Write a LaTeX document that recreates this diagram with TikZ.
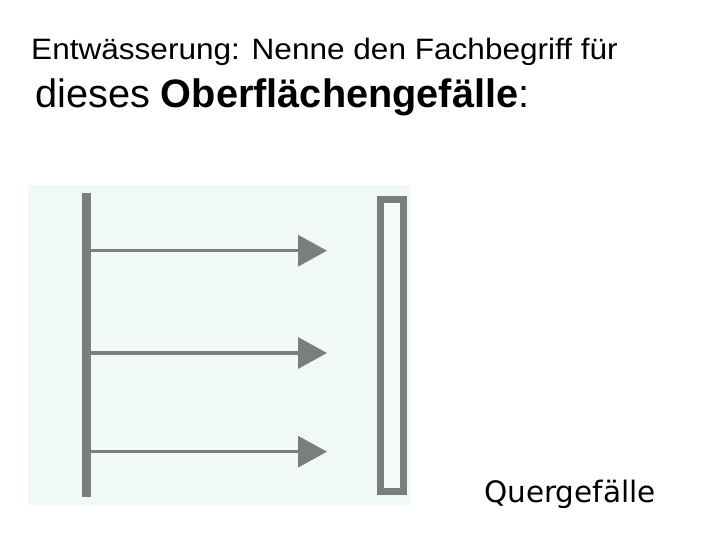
\documentclass[tikz,border=0pt]{standalone}
\usepackage{fontspec}
\setmainfont{Liberation Sans}
\newfontfamily\qfont{DejaVu Sans}
\usetikzlibrary{arrows.meta}
\definecolor{bgmint}{RGB}{241,249,245}
\definecolor{bargray}{RGB}{122,126,124}
\definecolor{innerw}{RGB}{246,251,249}
\tikzset{
  txt/.style={anchor=base west, inner sep=0pt, text=black},
  flowarrow/.style={draw=bargray, line width=3.3pt, -{Triangle[length=29pt,width=31pt]}},
}
\begin{document}
\begin{tikzpicture}[x=1pt,y=-1pt]
\useasboundingbox (0,0) rectangle (720,540);
% background
\fill[bgmint] (28,185) rectangle (410,505);
% title
\node[txt, xscale=1.07] (t1) at (31,59.5) {\fontsize{29.5}{34}\selectfont Entwässerung: Nenne den Fachbegriff für};
\node[txt] (t2) at (35,108) {\fontsize{39.7}{46}\selectfont dieses \textbf{Oberflächengefälle}:};
% left bar
\node[fill=bargray, inner sep=0pt, minimum width=9.5pt, minimum height=304pt] (bar) at (86.5,345) {};
% right box
\node[draw=bargray, fill=innerw, line width=7pt, inner sep=0pt, minimum width=23pt, minimum height=292pt] (box) at (392,345.5) {};
% arrow ends
\coordinate (e1) at (327,250.7);
\coordinate (e2) at (327,353);
\coordinate (e3) at (327,451.7);
\draw[flowarrow] (bar.east |- e1) -- (e1);
\draw[flowarrow] (bar.east |- e2) -- (e2);
\draw[flowarrow] (bar.east |- e3) -- (e3);
% answer
\node[txt] (ans) at (484,502) {\qfont\fontsize{29.5}{34}\selectfont Quergefälle};
\end{tikzpicture}
\end{document}
